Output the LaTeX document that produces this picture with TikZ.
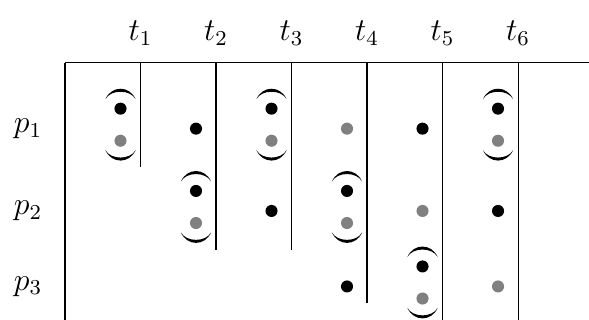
\documentclass[tikz,border=0pt]{standalone}
\usepackage{tikz}

\begin{document}
\begin{tikzpicture}[
  dotb/.style={circle,fill=black,inner sep=0pt,minimum size=0.16cm},
  dotg/.style={circle,fill=gray,inner sep=0pt,minimum size=0.16cm},
  lbl/.style={font=\fontsize{11.5}{13}\selectfont},
  paren/.pic={\fill (-0.2,-0.14) .. controls (-0.12,0.045) and (0.12,0.045) .. (0.2,-0.14)
    .. controls (0.13,-0.008) and (-0.13,-0.008) .. (-0.2,-0.14) -- cycle;}
]
\useasboundingbox (-0.861,-3.404) rectangle (6.94,0.834);

% frame
\coordinate (o) at (0,0);
\coordinate (axend) at (7.04,0);
\coordinate (lowend) at (0,-3.6);
\draw[->] (o) -- (axend);
\draw (o) -- (lowend);

% time columns
\node[lbl] (t1) at (1,0.39) {$t_1$};
\node[lbl] (t2) at (2,0.39) {$t_2$};
\node[lbl] (t3) at (3,0.39) {$t_3$};
\node[lbl] (t4) at (4,0.39) {$t_4$};
\node[lbl] (t5) at (5,0.39) {$t_5$};
\node[lbl] (t6) at (6,0.39) {$t_6$};
\draw (1,0) -- (1,-1.377);
\draw (2,0) -- (2,-2.477);
\draw (3,0) -- (3,-2.477);
\draw (4,0) -- (4,-3.18);
\draw (5,0) -- (5,-3.6);
\draw (6,0) -- (6,-3.6);

% processes
\node[lbl] (p1) at (-0.49,-0.87) {$p_1$};
\node[lbl] (p2) at (-0.49,-1.96) {$p_2$};
\node[lbl] (p3) at (-0.49,-2.96) {$p_3$};

% p1
\pic at (0.735,-0.34) {paren};
\node[dotb] (a1) at (0.735,-0.605) {};
\node[dotg] (b1) at (0.735,-1.03) {};
\pic[yscale=-1] at (0.735,-1.294) {paren};
\node[dotb] (a2) at (1.735,-0.87) {};
\pic at (2.735,-0.34) {paren};
\node[dotb] (a3) at (2.735,-0.605) {};
\node[dotg] (b3) at (2.735,-1.03) {};
\pic[yscale=-1] at (2.735,-1.294) {paren};
\node[dotg] (b4) at (3.735,-0.87) {};
\node[dotb] (a5) at (4.735,-0.87) {};
\pic at (5.735,-0.34) {paren};
\node[dotb] (a6) at (5.735,-0.605) {};
\node[dotg] (b6) at (5.735,-1.03) {};
\pic[yscale=-1] at (5.735,-1.294) {paren};

% p2
\pic at (1.735,-1.43) {paren};
\node[dotb] (c2) at (1.735,-1.695) {};
\node[dotg] (d2) at (1.735,-2.12) {};
\pic[yscale=-1] at (1.735,-2.384) {paren};
\node[dotb] (c3) at (2.735,-1.96) {};
\pic at (3.735,-1.43) {paren};
\node[dotb] (c4) at (3.735,-1.695) {};
\node[dotg] (d4) at (3.735,-2.12) {};
\pic[yscale=-1] at (3.735,-2.384) {paren};
\node[dotg] (d5) at (4.735,-1.96) {};
\node[dotb] (c6) at (5.735,-1.96) {};

% p3
\node[dotb] (e4) at (3.735,-2.96) {};
\pic at (4.735,-2.43) {paren};
\node[dotb] (e5) at (4.735,-2.695) {};
\node[dotg] (f5) at (4.735,-3.12) {};
\pic[yscale=-1] at (4.735,-3.384) {paren};
\node[dotg] (f6) at (5.735,-2.96) {};
\end{tikzpicture}
\end{document}
